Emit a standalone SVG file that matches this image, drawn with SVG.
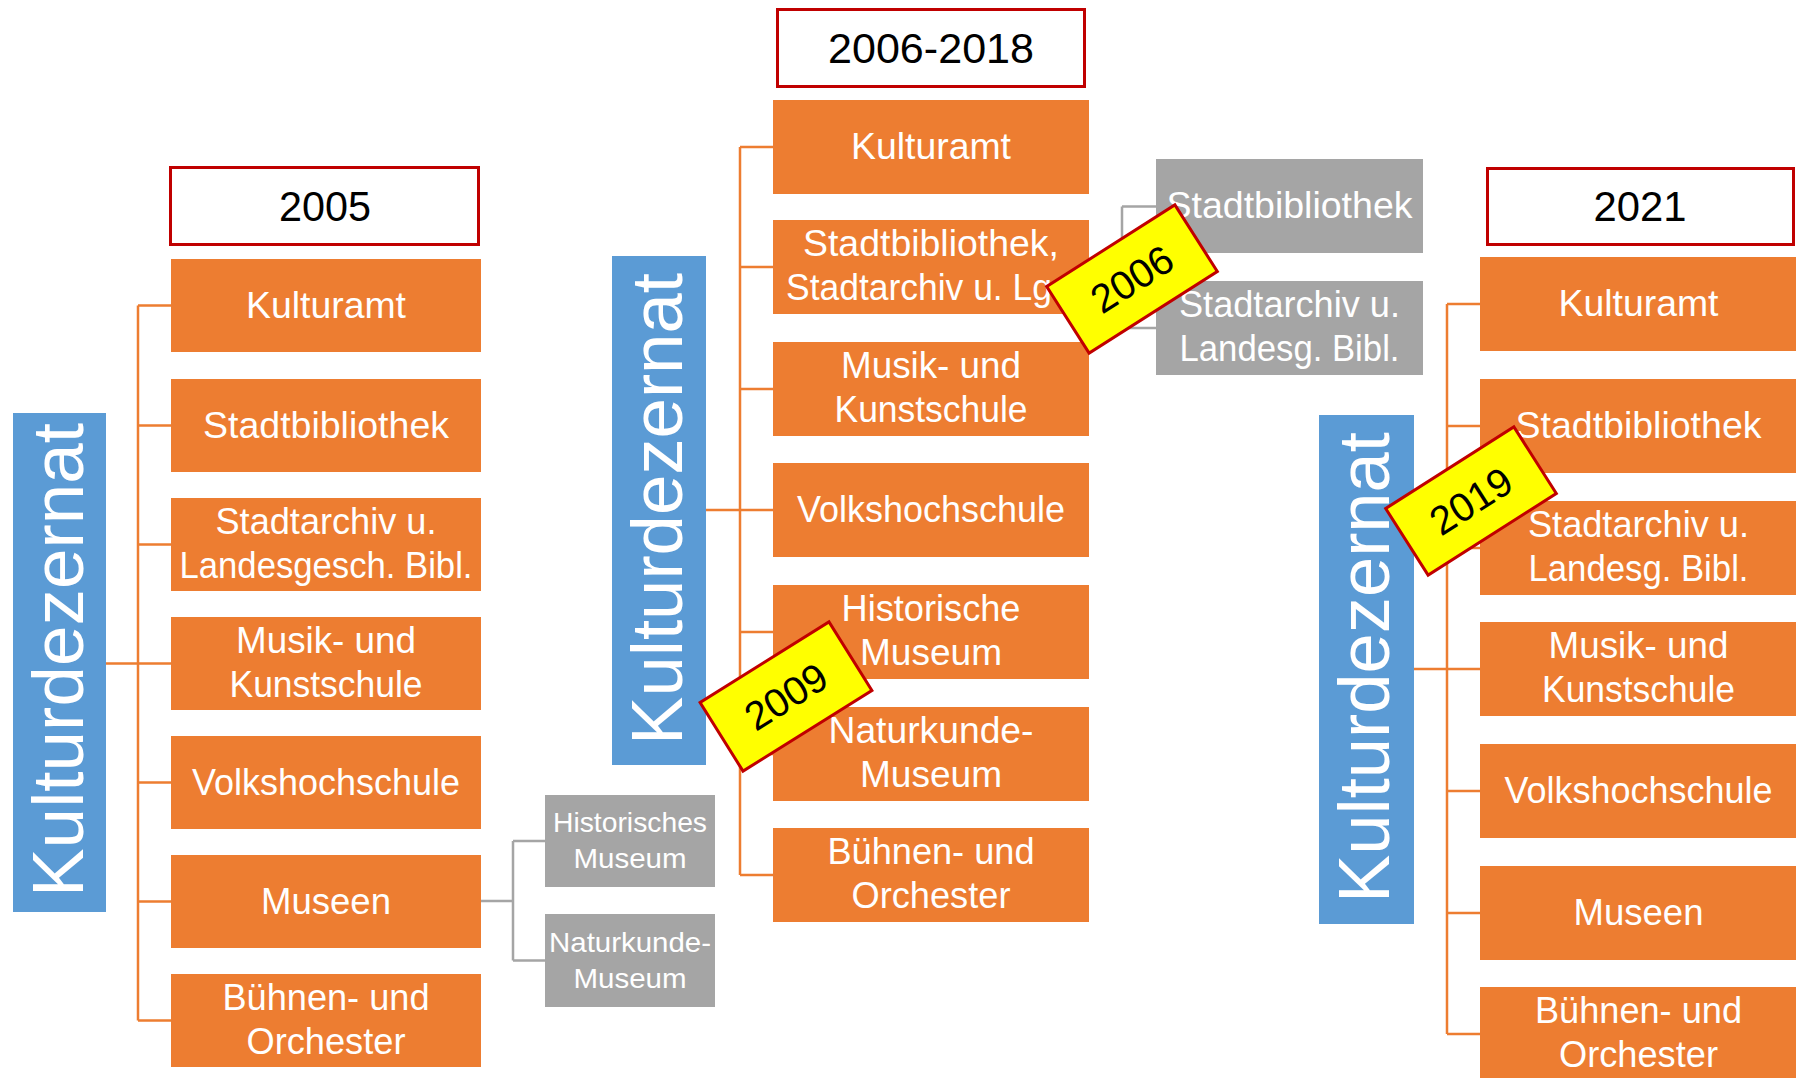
<svg xmlns="http://www.w3.org/2000/svg" width="1796" height="1078" viewBox="0 0 1796 1078">
<style>
  text { font-family: "Liberation Sans", Arial, sans-serif; }
  .box { fill: #ED7D31; }
  .blue { fill: #5B9BD5; }
  .gray { fill: #A5A5A5; }
  .year { fill: #FFFFFF; stroke: #C00000; stroke-width: 3; }
  .tag { fill: #FFFF00; stroke: #C00000; stroke-width: 3; }
  .t { fill: #FFFFFF; font-size: 36.5px; text-anchor: middle; }
  .ts { fill: #FFFFFF; font-size: 28px; text-anchor: middle; }
  .ty { fill: #000000; font-size: 42px; text-anchor: middle; }
  .tv { fill: #FFFFFF; font-size: 72.5px; text-anchor: middle; }
  .co { fill: none; stroke: #ED7D31; stroke-width: 2.5; }
  .cg { fill: none; stroke: #A5A5A5; stroke-width: 2.5; }
</style>
<rect width="1796" height="1078" fill="#FFFFFF"/>

<g id="connectors">
  <!-- 2005 -->
  <path class="co" d="M106 663.5H138 M138 305.5V1020.5 M138 305.5H171 M138 425.5H171 M138 544.5H171 M138 663.5H171 M138 782.5H171 M138 901.5H171 M138 1020.5H171"/>
  <path class="cg" d="M481 901H513 M513 841V960.5 M513 841H545 M513 960.5H545"/>
  <!-- 2006-2018 -->
  <path class="co" d="M706 510H740 M740 147V875 M740 147H773 M740 267H773 M740 389H773 M740 510H773 M740 632H773 M740 754H773 M740 875H773"/>
  <path class="cg" d="M1089 267H1122 M1122 206.5V328 M1122 206.5H1156 M1122 328H1156"/>
  <!-- 2021 -->
  <path class="co" d="M1414 669H1447 M1447 304V1034 M1447 304H1480 M1447 426H1480 M1447 548H1480 M1447 669H1480 M1447 791H1480 M1447 913H1480 M1447 1034H1480"/>
</g>

<!-- ===== 2005 ===== -->
<g id="year-2005">
  <rect class="year" x="170.5" y="167.5" width="308" height="77"/>
  <text class="ty" x="325" y="221" textLength="92" lengthAdjust="spacingAndGlyphs">2005</text>
</g>
<g id="kd-2005">
  <rect class="blue" x="13" y="413" width="93" height="499"/>
  <text class="tv" transform="translate(83,660) rotate(-90)" textLength="474" lengthAdjust="spacingAndGlyphs">Kulturdezernat</text>
</g>
<g id="a-kulturamt">
  <rect class="box" x="171" y="259" width="310" height="93"/>
  <text class="t" x="326" y="317.5" textLength="160" lengthAdjust="spacingAndGlyphs">Kulturamt</text>
</g>
<g id="a-stadtbibliothek">
  <rect class="box" x="171" y="379" width="310" height="93"/>
  <text class="t" x="326" y="437.5" textLength="246" lengthAdjust="spacingAndGlyphs">Stadtbibliothek</text>
</g>
<g id="a-stadtarchiv">
  <rect class="box" x="171" y="498" width="310" height="93"/>
  <text class="t" x="326" y="533.5" textLength="221" lengthAdjust="spacingAndGlyphs">Stadtarchiv u.</text>
  <text class="t" x="326" y="577.5" textLength="293" lengthAdjust="spacingAndGlyphs">Landesgesch. Bibl.</text>
</g>
<g id="a-musik">
  <rect class="box" x="171" y="617" width="310" height="93"/>
  <text class="t" x="326" y="652.5" textLength="180" lengthAdjust="spacingAndGlyphs">Musik- und</text>
  <text class="t" x="326" y="696.5" textLength="193" lengthAdjust="spacingAndGlyphs">Kunstschule</text>
</g>
<g id="a-vhs">
  <rect class="box" x="171" y="736" width="310" height="93"/>
  <text class="t" x="326" y="794.5" textLength="268" lengthAdjust="spacingAndGlyphs">Volkshochschule</text>
</g>
<g id="a-museen">
  <rect class="box" x="171" y="855" width="310" height="93"/>
  <text class="t" x="326" y="913.5" textLength="130" lengthAdjust="spacingAndGlyphs">Museen</text>
</g>
<g id="a-buehnen">
  <rect class="box" x="171" y="974" width="310" height="93"/>
  <text class="t" x="326" y="1009.5" textLength="207" lengthAdjust="spacingAndGlyphs">Bühnen- und</text>
  <text class="t" x="326" y="1053.5" textLength="159" lengthAdjust="spacingAndGlyphs">Orchester</text>
</g>
<g id="a-hist">
  <rect class="gray" x="545" y="795" width="170" height="92"/>
  <text class="ts" x="630" y="832" textLength="154" lengthAdjust="spacingAndGlyphs">Historisches</text>
  <text class="ts" x="630" y="868" textLength="113" lengthAdjust="spacingAndGlyphs">Museum</text>
</g>
<g id="a-natur">
  <rect class="gray" x="545" y="914" width="170" height="93"/>
  <text class="ts" x="630" y="951.5" textLength="162" lengthAdjust="spacingAndGlyphs">Naturkunde-</text>
  <text class="ts" x="630" y="987.5" textLength="113" lengthAdjust="spacingAndGlyphs">Museum</text>
</g>

<!-- ===== 2006-2018 ===== -->
<g id="year-2006">
  <rect class="year" x="777.5" y="9.5" width="307" height="77"/>
  <text class="ty" x="931" y="63" textLength="206" lengthAdjust="spacingAndGlyphs">2006-2018</text>
</g>
<g id="kd-2006">
  <rect class="blue" x="612" y="256" width="94" height="509"/>
  <text class="tv" transform="translate(682,509) rotate(-90)" textLength="472" lengthAdjust="spacingAndGlyphs">Kulturdezernat</text>
</g>
<g id="b-kulturamt">
  <rect class="box" x="773" y="100" width="316" height="94"/>
  <text class="t" x="931" y="159" textLength="160" lengthAdjust="spacingAndGlyphs">Kulturamt</text>
</g>
<g id="b-stadtbib">
  <rect class="box" x="773" y="220" width="316" height="94"/>
  <text class="t" x="931" y="256" textLength="256" lengthAdjust="spacingAndGlyphs">Stadtbibliothek,</text>
  <text class="t" x="786" y="300" style="text-anchor:start" textLength="266" lengthAdjust="spacingAndGlyphs">Stadtarchiv u. Lg</text>
</g>
<g id="b-musik">
  <rect class="box" x="773" y="342" width="316" height="94"/>
  <text class="t" x="931" y="378" textLength="180" lengthAdjust="spacingAndGlyphs">Musik- und</text>
  <text class="t" x="931" y="422" textLength="193" lengthAdjust="spacingAndGlyphs">Kunstschule</text>
</g>
<g id="b-vhs">
  <rect class="box" x="773" y="463" width="316" height="94"/>
  <text class="t" x="931" y="522" textLength="268" lengthAdjust="spacingAndGlyphs">Volkshochschule</text>
</g>
<g id="b-hist">
  <rect class="box" x="773" y="585" width="316" height="94"/>
  <text class="t" x="931" y="621" textLength="179" lengthAdjust="spacingAndGlyphs">Historische</text>
  <text class="t" x="931" y="665" textLength="142" lengthAdjust="spacingAndGlyphs">Museum</text>
</g>
<g id="b-natur">
  <rect class="box" x="773" y="707" width="316" height="94"/>
  <text class="t" x="931" y="743" textLength="205" lengthAdjust="spacingAndGlyphs">Naturkunde-</text>
  <text class="t" x="931" y="787" textLength="142" lengthAdjust="spacingAndGlyphs">Museum</text>
</g>
<g id="b-buehnen">
  <rect class="box" x="773" y="828" width="316" height="94"/>
  <text class="t" x="931" y="864" textLength="207" lengthAdjust="spacingAndGlyphs">Bühnen- und</text>
  <text class="t" x="931" y="908" textLength="159" lengthAdjust="spacingAndGlyphs">Orchester</text>
</g>
<g id="b-g-stadtbib">
  <rect class="gray" x="1156" y="159" width="267" height="94"/>
  <text class="t" x="1289.5" y="218" textLength="246" lengthAdjust="spacingAndGlyphs">Stadtbibliothek</text>
</g>
<g id="b-g-stadtarchiv">
  <rect class="gray" x="1156" y="281" width="267" height="94"/>
  <text class="t" x="1289.5" y="317" textLength="221" lengthAdjust="spacingAndGlyphs">Stadtarchiv u.</text>
  <text class="t" x="1289.5" y="361" textLength="220" lengthAdjust="spacingAndGlyphs">Landesg. Bibl.</text>
</g>

<!-- ===== 2021 ===== -->
<g id="year-2021">
  <rect class="year" x="1487.5" y="168.5" width="306" height="76"/>
  <text class="ty" x="1640" y="221" textLength="93" lengthAdjust="spacingAndGlyphs">2021</text>
</g>
<g id="kd-2021">
  <rect class="blue" x="1319" y="415" width="95" height="509"/>
  <text class="tv" transform="translate(1389,667.5) rotate(-90)" textLength="471" lengthAdjust="spacingAndGlyphs">Kulturdezernat</text>
</g>
<g id="c-kulturamt">
  <rect class="box" x="1480" y="257" width="317" height="94"/>
  <text class="t" x="1638.5" y="316" textLength="160" lengthAdjust="spacingAndGlyphs">Kulturamt</text>
</g>
<g id="c-stadtbib">
  <rect class="box" x="1480" y="379" width="317" height="94"/>
  <text class="t" x="1638.5" y="438" textLength="246" lengthAdjust="spacingAndGlyphs">Stadtbibliothek</text>
</g>
<g id="c-stadtarchiv">
  <rect class="box" x="1480" y="501" width="317" height="94"/>
  <text class="t" x="1638.5" y="537" textLength="221" lengthAdjust="spacingAndGlyphs">Stadtarchiv u.</text>
  <text class="t" x="1638.5" y="581" textLength="220" lengthAdjust="spacingAndGlyphs">Landesg. Bibl.</text>
</g>
<g id="c-musik">
  <rect class="box" x="1480" y="622" width="317" height="94"/>
  <text class="t" x="1638.5" y="658" textLength="180" lengthAdjust="spacingAndGlyphs">Musik- und</text>
  <text class="t" x="1638.5" y="702" textLength="193" lengthAdjust="spacingAndGlyphs">Kunstschule</text>
</g>
<g id="c-vhs">
  <rect class="box" x="1480" y="744" width="317" height="94"/>
  <text class="t" x="1638.5" y="803" textLength="268" lengthAdjust="spacingAndGlyphs">Volkshochschule</text>
</g>
<g id="c-museen">
  <rect class="box" x="1480" y="866" width="317" height="94"/>
  <text class="t" x="1638.5" y="925" textLength="130" lengthAdjust="spacingAndGlyphs">Museen</text>
</g>
<g id="c-buehnen">
  <rect class="box" x="1480" y="987" width="317" height="94"/>
  <text class="t" x="1638.5" y="1023" textLength="207" lengthAdjust="spacingAndGlyphs">Bühnen- und</text>
  <text class="t" x="1638.5" y="1067" textLength="159" lengthAdjust="spacingAndGlyphs">Orchester</text>
</g>

<!-- ===== labels ===== -->
<g id="tag-2006" transform="translate(1132,279) rotate(-32.5)">
  <rect class="tag" x="-76" y="-39.5" width="152" height="79"/>
  <text class="ty" x="0" y="14" style="font-size:40px">2006</text>
</g>
<g id="tag-2009" transform="translate(786,696.5) rotate(-32)">
  <rect class="tag" x="-76" y="-40.5" width="152" height="81"/>
  <text class="ty" x="0" y="14" style="font-size:40px">2009</text>
</g>
<g id="tag-2019" transform="translate(1471,501) rotate(-32.5)">
  <rect class="tag" x="-76" y="-39.5" width="152" height="79"/>
  <text class="ty" x="0" y="14" style="font-size:40px">2019</text>
</g>
</svg>
